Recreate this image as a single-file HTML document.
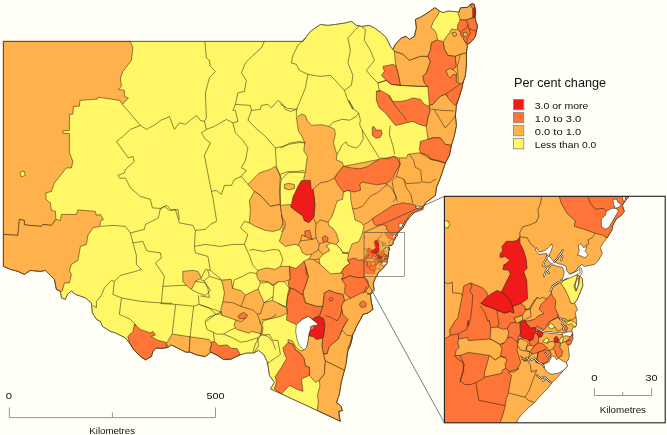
<!DOCTYPE html><html><head><meta charset="utf-8"><title>Map</title>
<style>html,body{margin:0;padding:0;background:#FFFFF8;}svg{display:block}text{font-family:"Liberation Sans",sans-serif;fill:#111}svg{opacity:.999;will-change:transform}</style></head><body>
<svg width="667" height="435" viewBox="0 0 667 435">
<rect width="667" height="435" fill="#FFFFF8"/>
<g transform="translate(0.4,0.4)">
<g stroke="#33260f" stroke-width="0.55" stroke-linejoin="round">
<polygon fill="#FFF766" points="3,41 302.5,41 305,37.5 310,31 320,24 327.5,25 335,24 345,22.5 351,21 356,25 361,26 369,25 374,27.5 381,32.5 386,37.5 390,46 392.5,49 395,44 401,37.5 406,36 409,39 414,36 416,27.5 415,19 420,16.9 425.3,13.7 430.6,10 434.3,7.4 436.4,8.5 439,10.6 442.7,12.2 447.5,10.6 453.8,11.1 458.6,11.6 460.2,7.4 467.6,6.9 469.7,4.2 471.8,3.2 474,4.2 474.5,7.4 475,11.6 474.5,16.9 475.5,21.1 477.1,25.4 476,30.7 475,36 471.8,40.2 469.7,42.3 467,44.5 466,52.5 466,65 465,75 462.5,82.5 460,92.5 457.5,100 456,105 455,115 456,125 454,135 451,145 449,155 445,162.5 442.5,170 439,180 436,187 435,195 425,202.5 422.5,207.5 415,211 410,216 406,221 402.5,227.5 397.7,232.4 397.1,233.2 396.5,234.0 396.9,235.1 396.3,235.8 395.4,236.5 394.8,237.7 394.6,238.6 393.7,240.0 393.0,240.8 392.5,241.7 392.8,242.8 392.3,243.8 392.0,244.2 391.5,244.8 389.5,245.2 389.1,244.8 388.5,245.3 387.9,246.2 388.3,246.7 388.7,247.0 389.1,247.4 389.3,248.6 388.9,249.7 388.3,251.1 387.8,251.9 388.0,252.5 388.3,253.2 387.9,253.6 388.0,254.4 388.1,255.2 388.1,255.8 387.9,256.3 387.5,256.3 387.3,257.0 387.5,257.6 387.3,258.5 387.0,259.4 386.6,259.8 386.7,260.7 386.8,261.6 386.6,262.2 386.3,262.7 386.4,263.5 385.8,264.2 384.8,265.3 383.7,266.5 382.8,267.6 381.6,268.8 380.4,270.1 379.3,271.1 378.1,272.2 377.4,273.2 377.2,273.7 376.5,275.5 375,277.5 372.5,284 374,290 370,294 371,302.5 372.5,309 367.5,312.5 362.5,314 360,319 356,326 354,331 352.5,333.5 351,341 347.5,351 346,361 344,370 341,381 339,393.5 337.6,397.6 336.1,402.6 338.4,403.7 340.7,406 341.5,409 342.2,410.1 338.4,410.9 338.8,415.8 339.9,420.8 316.8,410.1 281,393.5 270,388.5 274,382 269,375 267,361.6 263.5,354.4 258,349.9 253.6,352.6 246.4,352.6 240,354.4 235.6,356.2 230.2,358.9 223,358.9 217.6,355.3 210.4,351.7 205,356.2 196,354.4 189.7,351.7 185.2,351.7 178,348 170.8,344.5 167.2,347.2 160,348 156,347.5 152.5,351 151,356 145,359.5 140,356 134,350 129,342.5 125,337.5 115,332.5 110,331 102,326 100,321 96,319 92,312.5 91,302.5 85,297.5 75,294 71,290.5 67,294 65,299 61,297.5 60,291 56,289 54,279 50,275 45,270 40,271 30,270 24,274 17.5,271 10,269 3,266"/>
<polygon fill="#FFB24C" points="3,41 130,41 132.5,47.5 131,60 122.5,71 120,77.5 121,86 118,89 124,90 124,96 128,97.5 122,104 119.5,100 97.5,96.7 97,98.7 79.5,100 79,105.7 73,106 72.5,113.7 69,114 69,130 62.5,130.5 62.5,133 69,133 69,152.5 72.5,161 71,167.5 66,167.5 54,182.5 51,191 45.5,192.5 45.5,199 50,202.5 51,210 55,211 55.5,219 51,225 42.5,224 41,226 24,224.5 24,220 19,219 17.5,235 3,234"/>
<polygon fill="#FFB24C" points="3,234 17.5,235 19,219 24,220 24,224.5 41,226 42.5,224 51,225 55.5,219 60,220 61,214 76,214 77.5,209.5 95,211 96,215 100,214 103,219 100,221 99.5,226 92.5,227.5 87.5,235 86,244 80,246 77.5,260 71,264 69,270 71,274 69,282.5 64,282.5 62,290.5 60,291 56,289 54,279 50,275 45,270 40,271 30,270 24,274 17.5,271 10,269 3,266"/>
<polygon fill="#FFF766" points="19.5,172 23.5,170.5 25,175 21,176.5"/>
<polygon fill="#FF7538" points="134,324 140,329 150,332.5 152.5,331 155,334.5 151,336 157.5,340 165.4,341.8 166.3,347.2 160,348 156,347.5 152.5,351 151,356 145,359.5 140,356 134,350 129,342.5 127.5,336 132.5,331"/>
<polygon fill="#FFB24C" points="171.7,333.7 189.7,336.4 188.8,350.8 189.7,351.7 185.2,351.7 178,348 170.8,344.5 167.2,347.2 166.3,342.7"/>
<polygon fill="#FFB24C" points="189.7,336.4 208.6,339.1 211.3,343.6 209.5,349.9 210.4,351.7 205,356.2 196,354.4 189.7,351.7 188.8,350.8"/>
<polygon fill="#FF7538" points="210.4,341.8 214,340.9 218.5,345.4 226.6,344.5 231.1,348.1 236.5,348.1 240,354.4 235.6,356.2 230.2,358.9 223,358.9 217.6,355.3 210.4,351.7 209.5,349.9 211.3,343.6"/>
<polygon fill="#FFB24C" points="221,279.7 230.7,279 232.2,288 240.5,290.2 245,294.7 252.5,291 257.7,288.7 260,294 263.7,302.2 272,300 278,303 285.5,306.7 287,312.7 281,315.7 272,318 261.5,319.5 259.2,321.7 262.6,327.4 261.7,333.7 251.8,331 248.2,332.8 242.8,331 236.7,329.2 233.7,325.5 235.2,319.5 228.5,317.2 221.7,315 220.2,309.7 222.5,301.5 224,292.5 222.5,285"/>
<polygon fill="#FF7538" points="237.5,315.7 240.5,313.5 243.5,312 247.2,315 245,318 239,318.3"/>
<polygon fill="#FFB24C" points="182.5,271 192.5,270 197.5,271 201,277.5 195,281 191,289 186,285 182.5,281"/>
<polygon fill="#FFB24C" points="256.2,273 257.5,270 266,267.5 275,269 280,266 289,266 290,279 284,281.2 278,281.2 272,285 267.5,281.2 259.2,280.5 257,277.5"/>
<polygon fill="#FFB24C" points="247.5,184 259,172.5 270,169 275,166 280,175 279,192.5 280,204 270,206 260,195 254,191"/>
<polygon fill="#FFB24C" points="254,191 260,195 270,206 280,204 280,205 282.5,222.5 280,229 272.5,231 265,230 255,226 249,222.5 250,210 249,200"/>
<polygon fill="#FFB24C" points="284,184 288,183 294,184 294,188 289,189.5 284,188"/>
<polygon fill="#FFB24C" points="304,176 336,176 343,166 394,156 397.5,157.5 406,157.5 407.5,154 417.5,152.5 421,152.5 427.5,155 430,159 437.5,160 445,162.5 442.5,170 439,180 436,187 435,195 425,202.5 422.5,207.5 415,211 410,216 406,221 402.5,227.5 397.7,232.4 397.1,233.2 396.5,234.0 396.9,235.1 396.3,235.8 395.4,236.5 394.8,237.7 394.6,238.6 393.7,240.0 393.0,240.8 392.5,241.7 392.8,242.8 392.3,243.8 392.0,244.2 391.5,244.8 389.5,245.2 389.1,244.8 388.5,245.3 387.9,246.2 388.3,246.7 388.7,247.0 389.1,247.4 389.3,248.6 388.9,249.7 388.3,251.1 387.8,251.9 388.0,252.5 388.3,253.2 387.9,253.6 388.0,254.4 388.1,255.2 388.1,255.8 387.9,256.3 387.5,256.3 387.3,257.0 387.5,257.6 387.3,258.5 387.0,259.4 386.6,259.8 386.7,260.7 386.8,261.6 386.6,262.2 386.3,262.7 386.4,263.5 385.8,264.2 384.8,265.3 383.7,266.5 382.8,267.6 381.6,268.8 380.4,270.1 379.3,271.1 378.1,272.2 377.4,273.2 377.2,273.7 376.5,275.5 375,277.5 372.8,282.6 373.7,288 371,291.6 369.2,297 371,302.5 372.5,309 367.5,312.5 362.5,314 360,319 356,326 354,331 352.5,333.5 351,341 349,347.5 345,346 340,332.5 344,325 347.5,319 342.5,314 341,306 342.5,302.5 344,300 342.5,294 335,292.5 329,290 324,292.5 322.5,306 316,306 305,302.5 302.6,291.6 305.3,284.4 308,276.3 305.3,266.4 303.5,261 308.9,258.3 311.6,253.8 306.2,254.7 301.7,252 299.9,246.6 295.4,243.9 290,244.8 285,246 279,241 282.5,230 282.5,222.5 280,205 290,204 290.5,206.5 294.2,209.5 302.5,215.5 304,220 308.5,222.2 313.4,216.8 314.5,205 313.7,196 312.2,187 310.7,179.5"/>
<polygon fill="#F01A1A" points="301,180.2 310.7,179.5 312.2,187 313.7,196 314.5,205 313.4,216.8 308.5,222.2 304,220 302.5,215.5 294.2,209.5 290.5,206.5 292.7,196 295,191.5 298,185"/>
<polygon fill="#FFF766" points="327.7,221.7 331.5,216.5 335,206 336.8,200.6 342.2,198.8 343,191.6 347.6,189.8 350.3,192.5 350.3,198.8 352,207.8 353.9,215 354.7,219.5 361.5,222.5 363.7,226.2 361.5,234.5 358.5,241.2 351.7,243.5 348,253.2 342.7,252.5 339.7,248 336,244.2 338.2,240.5 336,233 332.2,227.7 328.5,225.5"/>
<polygon fill="#FFF766" points="325.5,245.7 330,242.7 336,244.2 339.7,248 342.7,252.5 348,253.2 347.2,260 349.5,263 343.5,267.5 340.5,272.7 330,273.5 326.2,269.7 319.5,263.7 318.7,258.5 322.5,254 329.2,250.2 327.7,247.2"/>
<polygon fill="#FF7538" points="304.5,230.7 309,230 311.2,236.7 312,239 308.2,237.5 304.5,236"/>
<polygon fill="#FF7538" points="321.7,237.5 324.7,235.2 327.7,237.5 327,241.2 323.2,242"/>
<polygon fill="#FF7538" points="289,266 295.4,268.2 303.5,261 305.3,266.4 308,276.3 305.3,284.4 302.6,291.6 302.5,295 294,289 289,287.5 287.5,281 290,279"/>
<polygon fill="#FF7538" points="347.2,260 351.2,258.3 354,257.7 358.5,260 362.9,259.2 363.8,265.5 363.8,277.2 356.6,277.2 349.4,275.4 341.3,279 343.1,273.6 340.5,272.7 343.5,267.5 349.5,263"/>
<polygon fill="#FF7538" points="341.3,279 349.4,275.4 356.6,277.2 363.8,277.2 367.4,279.9 368.3,286.2 365.6,290.7 362,294.3 352.1,298.8 347.6,296.1 344,292.5 344.9,284.4"/>
<polygon fill="#FF7538" points="287.5,292.5 289,287.5 294,289 302.5,295 305,302.5 316,306 322.5,306 319,316 317,316 311.7,319 308,316 302,319 296,324.2 294.5,323.5 286.2,319.7 287,310 286,305"/>
<polygon fill="#FF7538" points="324,292.5 329,290 335,292.5 342.5,294 344,300 341,306 342.5,314 348.5,317.5 344,325 341.7,329.5 338,338.5 329,346 326.7,353.5 323,353.5 321.5,345.2 322.2,337.7 323,337 324.5,325 323,318.2 319,316 322.5,306"/>
<polygon fill="#F01A1A" points="311.7,319 317,316 323,318.2 324.5,325 323,337 316.2,339.2 312.5,336.2 308,335.5 308.7,332.5 311.7,325.7 315.5,325 317.7,323.5"/>
<polygon fill="#FFFFFC" points="296,324.2 302,319 308,316 311.7,319 317.7,323.5 315.5,325 311.7,325.7 308.7,332.5 308,339.2 306.5,346.7 303.5,349.7 299,345.2 296.7,339.2 295.2,331"/>
<polygon fill="#FFB24C" points="342.5,302.5 345,300 351,297.5 364,291 370,294 371,302.5 372.5,309 367.5,312.5 362.5,314 360,319 356,326 354,331 352.5,333.5 351,341 349,347.5 345,346 340,332.5 344,325 347.5,319 342.5,314 341,306"/>
<polygon fill="#FF7538" points="360,302 363,300.5 366,303 365,306.5 361,307 359,304.5"/>
<polygon fill="#FFB24C" points="326.7,353.5 329,346 338,338.5 341.7,329.5 346.2,334.7 351.5,335.5 350,341.5 347.7,347.5 346.2,356.5 345.5,365.5 344,370 339.5,367.7 332,364 326,361 324.5,359.5 323,353.5"/>
<polygon fill="#FFB24C" points="287.7,339.2 292.2,340.7 296,347.5 300.5,350.5 303.5,349.7 306.5,346.7 308,339.2 308,335.5 312.5,336.2 316.2,339.2 322.2,337.7 321.5,345.2 323,353.5 324.5,359.5 325,360 324,373.5 319,380 315,382 309,375 309,367 305,365.5 303.5,358 299.7,352.7 295.2,349.7 292.2,343.7 287.7,342.2"/>
<polygon fill="#FF7538" points="282.5,347.5 287.7,342.2 292.2,343.7 295.2,349.7 299.7,352.7 303.5,358 305,365.5 309,367 309,375 301,378.5 302.5,391 296,388.5 289,385 281,393.5 274,388.5 276,382 275,376 281,367 286.2,358 284,353.5"/>
<polygon fill="#FFB24C" points="324,373.5 325,360 326,361 332,364 339.5,367.7 344,370 341,381 339,393.5 337.6,397.6 336.1,402.6 338.4,403.7 340.7,406 341.5,409 342.2,410.1 338.4,410.9 338.8,415.8 339.9,420.8 316.8,410.1 317.9,402.2 317.2,394.6 319.5,386 319,380"/>
<polygon fill="#FFB24C" points="415,19 420,16.9 425.3,13.7 430.6,10 434.3,7.4 436.4,8.5 439,10.6 437.4,14.8 433.2,20.6 430.6,27 433.7,29.6 436.4,33.8 437,39.5 431,42.5 430,50 427.5,56 420,56 409,60 402.5,54 394,51 392.5,49 395,44 401,37.5 406,36 409,39 414,36 416,27.5"/>
<polygon fill="#FFB24C" points="394,51 402.5,54 409,60 420,56 427.5,56 430,61 426,72.5 422.5,76 424,82.5 427.5,86 420,86 400,85 397.5,72.5 395,62.5"/>
<polygon fill="#FFB24C" points="458.6,11.6 460.2,7.4 467.6,6.9 469.7,4.8 470.8,6.3 472.9,8.5 472.9,17.4 469.7,18 466.5,19.6 462.3,19.6 459.7,19 458,13.7"/>
<polygon fill="#FF7538" points="469.7,4.2 471.8,3.2 474,4.2 474.5,7.4 472.9,8.5 470.8,6.3"/>
<polygon fill="#F01A1A" points="472.4,8.5 474.7,7.4 475.3,11.6 474.8,16.9 472.4,17.4"/>
<polygon fill="#FFB24C" points="442.7,41.2 445.9,36.5 449.6,31.7 451.2,28.5 456,29.6 457,28.5 460.2,31.7 460.7,34.9 462.8,37.5 464.4,41.2 466.5,43.9 467,44.5 466,52.5 460,54 455,56 447.5,55 444,49"/>
<polygon fill="#FF7538" points="459.7,19 462.3,19.6 466.5,19.6 469.7,18 472.9,17.4 474.5,16.9 475.5,21.1 477.1,25.4 476,30.7 475,36 471.8,40.2 469.7,42.3 466.5,43.9 464.4,41.2 462.8,37.5 460.7,34.9 460.2,31.7 457,28.5 457.5,23.8 459.1,21.1"/>
<polygon fill="#FFB24C" points="462.8,32.3 466,31.7 467,34.4 466,36.5 463.4,36"/>
<polygon fill="#FFB24C" points="451.7,32.3 454.9,31.7 456.5,33.8 455.4,36 452.8,35.4"/>
<polygon fill="#FF7538" points="437,39.5 442.7,41.2 444,49 447.5,55 455,56 456,66 452.5,69 456,72.5 456,81 461,84 460,92.5 457.5,100 452.5,100 447.5,96 445,94 440,96 436,100 432.5,104 429,105 427.5,86 424,82.5 422.5,76 426,72.5 430,61 427.5,56 430,50 431,42.5"/>
<polygon fill="#FFB24C" points="445.7,70.2 449.5,68 453.2,69.5 457,70.2 456.2,74.7 452.5,74 450.2,77.7 447.2,74.7"/>
<polygon fill="#FFB24C" points="455,56 460,54 466,52.5 466,65 465,75 462.5,82.5 461,84 456,81 456,72.5 452.5,69 456,66"/>
<polygon fill="#FF7538" points="382.5,66 392.5,64 395,65 397.5,72.5 400,85 391,84 386,80 381,75 384,71"/>
<polygon fill="#FF7538" points="376,91 380,90 389,95 392.5,101 400,101 406,100 412.5,97.5 420,99 424,104 429,106 430,110 427.5,117.5 426,126 419,124 412.5,121 405,122.5 400,124 395,125 391,120 385,112.5 379,107.5 376,100"/>
<polygon fill="#FFB24C" points="429,105 432.5,104 436,100 440,96 445,94 447.5,96 452.5,100 457.5,100 456,105 455,115 456,125 454,135 451,145 445,144 440,137.5 432.5,137.5 427.5,139 426,126 427.5,117.5 430,110"/>
<polygon fill="#FF7538" points="420,141 427.5,139 432.5,137.5 440,137.5 445,144 451,145 449,155 445,162.5 437.5,160 430,159 427.5,155 421,152.5 419,150"/>
<polygon fill="#FF7538" points="334,177.5 337.6,172 343,165.7 351,167.5 359,168.4 366.4,166.6 373.6,162 380.8,157.6 388,158.5 393.3,155.8 397,158.5 399.7,163.4 398.7,166 395,172 392.6,177.2 387.2,182.6 376.4,184.4 362,181.7 359.3,183.5 360.2,189.8 353.9,191.6 347.6,189.8 343,191.6 337.7,184.4"/>
<polygon fill="#FF7538" points="371.8,127 373.6,126 375.4,129.7 380.8,129.7 381.7,133.3 379.9,136.9 375.4,137.8 372.1,135"/>
<polygon fill="#FFB24C" points="296,117 301.6,113.5 305,115.3 307,120.7 311.5,125 321.4,124.3 328.6,126 334,128.8 335,134 333,142.3 335,149.5 336.7,154 335.8,159.4 342,162 343,165.7 337.6,172 334,177.5 327.5,181 320,182.5 311,190 310,180 304,180 303.4,178 305,172 306,163 307,155.8 303.4,150.4 304.3,142.3 301.6,136 298,130.6 297,123.4"/>
<polygon fill="#FF7538" points="371.6,218.4 381.2,212.4 392,205.2 395.6,204 399.2,203.4 402.8,202.2 406.4,203.4 410,203.4 414.7,204.6 415.3,207 422,207 423.1,208.8 417.1,211.2 412.4,212.4 408.8,214.8 406.4,219 402.8,223.8 400.4,228 398,231 395.6,233.4 392,232.2 388.4,231.6 386,228.6 386,225.6 382.4,224.4 375.2,225 373.4,222.6"/>
<polygon fill="#FFFFFC" points="415.5,206 418,205.6 421.5,206.5 421.8,208 418,208.2 415.6,207.6"/>
<polygon fill="#FFFFFC" points="398.5,223.5 400.5,222.6 402.5,224 401,227.4 398.6,227"/>
<polygon fill="#FF7538" points="445.6,93.4 453.7,88 462.7,81.7 461.8,88 460,92.5 459,97 456,103 454.6,105 451.9,102.4 447.4,97"/>
<polygon fill="#FF7538" points="328.5,298.7 330,297.2 332,297.5 333,299 332,300.2 329.5,300.5"/>
<polygon fill="#FF7538" points="309.7,326.5 313.5,325 314.2,328 310.5,330.2"/>
</g>
<g stroke="#33260f" stroke-width="0.55" fill="none" stroke-linejoin="round">
<polyline points="222.5,301.5 232.2,302.2 240.5,306 245,294.7"/>
<polyline points="240.5,306 252.5,309.7 257,313.5 260,313.5 263.7,302.2"/>
<polyline points="257,313.5 260,322.5"/>
<polyline points="235.2,319.5 240.5,321.5 245,318"/>
<polyline points="232.2,288 233.7,279.7 242,276 249.5,272.2 256.2,273"/>
<polyline points="257.7,288.7 260,282.7 259.2,280.5"/>
<polyline points="260,282.7 268,282 273.5,285 272.7,296.2 272,300"/>
<polyline points="272.7,296.2 263.7,302.2"/>
<polyline points="278,303 281.7,305.2 285.5,306.7"/>
<polyline points="273.5,285 278,281.2"/>
<polyline points="284,281.2 290,289.5 287,297 286,306"/>
<polyline points="200,304.5 219.5,311.2 221.7,315"/>
<polyline points="200,295.5 209,297 207.5,288 203.7,280.5 200,279"/>
<polyline points="206,321 215,314.2 220.2,313.5"/>
<polyline points="203.7,280.5 209,276 221,279.7"/>
<polyline points="209,276 207.5,270"/>
<polyline points="122,104 140,125 146,129 155,124 160,120 166.5,117.5 169,116 174,129 179,122.5 185,124 191,119 196,115 200,120 204,121 206,117.5 205,92.5 209,77.5 215,71 210,66 209,60 206,57.5 204.5,41"/>
<polyline points="140,125 130,129 122.5,136 116,141 128,157.5 132.5,156 134,161 125,169 124,172.5 117.5,175 119.5,178 125,177.5 130,187.5 140,196 150,199 152,207.5 160,208 166.5,205 171,210 177.5,209 179,219"/>
<polyline points="160,208 158,217.5 145,224 144,229 130,232.5 125,226 112.5,225 100,226"/>
<polyline points="204,121 206,129 201,132.5 205,139 210,142.5 204,155 211,191 212.5,197.5 216,219"/>
<polyline points="206,129 214,126 226,119 232.5,122.5 237.5,121 235,110 232.5,110 235,104 237.5,92.5 244,91 246,80 241,72.5 245,62.5 252.5,55 261,47.5 264,41"/>
<polyline points="232.5,122.5 235,132.5 242.5,140 247.5,147.5 245,160 241,167.5 246,170 241,176 247.5,184"/>
<polyline points="241,176 234,179 231,185 224,185 221,194 216,190 211,191"/>
<polyline points="235,104 250,105 251,110 260,109 261,105 267.5,104 271,107.5 277.5,100 282.5,104 285,109 290,111 296,109 296,116"/>
<polyline points="251,110 247.5,120 249,121 255,127.5 265,136 275,147.5 276,166"/>
<polyline points="275,147.5 282.5,146 290,142.5 300,141 305,142.5"/>
<polyline points="296,109 300,100 305,87.5 307.5,74 299,70 296,64 291,62.5 292.5,55 297.5,45 305,37.5"/>
<polyline points="307.5,74 320,76 330,75 335,80 344,90 347.5,100 352.5,109 348.4,100 353.8,109 358.3,112.6 355.6,116.2 349.3,119.8 342,118.9 333,121.6 328.6,126"/>
<polyline points="344,90 351,85 352.5,75 347.5,62.5 350,50 347.5,37.5 359,25"/>
<polyline points="361,26 365,29 364,40 370,50 374,60 366,70 370,75 377.5,82.5 386,80"/>
<polyline points="377.5,82.5 379,91 376,91"/>
<polyline points="280,103.6 287.2,108 297,109"/>
<polyline points="280,147.7 288,144 298,142.3 304.3,142.3"/>
<polyline points="280,173.8 288,171 298,172 305,172"/>
<polyline points="276,166 281,179 287.5,172.5 304,170"/>
<polyline points="281,179 280,185 280,204"/>
<polyline points="358.3,112.6 360,119.8 359.2,124.3 361.9,129.7 362.8,138.7 359.2,145 355.6,147.7 347.5,145 345.7,141.4 341.2,145 339.4,149.5 336.7,154"/>
<polyline points="361.9,129.7 370,143.2 379,157.6"/>
<polyline points="389.8,125.2 388.9,134.2 392.5,145 394.3,154"/>
<polyline points="377.5,82.5 386,80 391,84 400,85 420,86 427.5,86"/>
<polyline points="130,232.5 132.5,242.5 142.5,241 146,250 149,251 160,252.5 161,257.5 155,262.5 164,276 162.5,286 180,285 186,285"/>
<polyline points="132.5,242.5 136,255 136,264 141,269 135,271 120,275 114,281 111,280 104,287.5 101,295 96,301 96,307.5 92.5,305"/>
<polyline points="114,281 112.5,294 121,297.5 140,301 160,302.5 172,303"/>
<polyline points="121,297.5 119,314 130,319 136,325 134,324"/>
<polyline points="160,209 164,206 169,210 175,209 179,222.5 192.5,225 195,230 205,229 210,224 216,221 216,219"/>
<polyline points="195,230 194,246 195,252.5 207.5,256 210,270 219,277.5 221,279"/>
<polyline points="194,246 205,244 220,246 232.5,244 244,244 247.5,234 240,227.5 244,221 249,222.5"/>
<polyline points="244,244 249,255 252.5,265 257.5,270"/>
<polyline points="249,250 252.5,249 262.5,251 274,249 279,250 282.5,259 280,266"/>
<polyline points="162.5,286 161,302.5"/>
<polyline points="201,277.5 205,269 210,270"/>
<polyline points="195,281 205,282.5 210,290 205,295 197.5,292.5 191,289"/>
<polyline points="160,303.1 175.3,304 193.3,305.8 198.7,304 208.6,307.6 215.8,313.9 221.2,311.2"/>
<polyline points="175.3,304 171.7,333.7"/>
<polyline points="193.3,305.8 191.5,320.2 189.7,336.4"/>
<polyline points="198.7,304 198,295"/>
<polyline points="215.8,313.9 208.6,316.6 205,320.2 205,323.8 206.8,329.2 213,331.9 215.8,333.7 223,333.7 229.3,330 235.6,327.4"/>
<polyline points="213,331.9 214,340.9"/>
<polyline points="223,333.7 232,337.3 240,341.8 246.4,340.9 257.2,337.3 261.7,333.7"/>
<polyline points="257.2,337.3 258,345.4 253.6,352.6"/>
<polyline points="262.6,334 268,336.4 272.5,341.8 275.2,349"/>
<polyline points="262.5,321 260,335 269,334 272.5,340 277.5,340 280,354 270,361 266,363.5"/>
<polyline points="260,335 255,343.5 252.5,352"/>
<polyline points="276,314 271,317.5 262.5,321 260,324"/>
<polyline points="324.7,315.2 330,316.7 336.7,320.5 339.7,316 341.2,310"/>
<polyline points="366,286 363,293.5"/>
<polyline points="366.7,294.2 372,292.7"/>
<polyline points="466,19.6 467.5,24 468.5,28 472,29.5 476,30.7"/>
<polyline points="467.5,24 466,28 462,30 460.2,31.7"/>
<polyline points="468.5,28 470,33 467,38 466,43"/>
<polyline points="280.5,215 285,222.5 284.2,228.5 280.5,231.5"/>
<polyline points="313.5,218 315.7,224 315,230 315.7,237.5 318.7,243.5 318,249.5 312,253.2"/>
<polyline points="315.7,224 319.5,219.5 327.7,221.7"/>
<polyline points="315.7,237.5 312,239 300,240.5 297.7,245"/>
<polyline points="300,240.5 301.5,234.5 304.5,236"/>
<polyline points="318.7,243.5 323.2,242"/>
<polyline points="327,241.2 330,242.7"/>
<polyline points="318,249.5 322.5,254"/>
<polyline points="306,275 305.2,266"/>
<polyline points="308.2,258.5 313.4,259.2 318.7,258.5"/>
<polyline points="319.5,263.7 313.4,259.2"/>
<polyline points="341.3,252.9 347.6,252"/>
<polyline points="408.7,153.5 413.2,159.8 415,167 420.4,169.7 421.3,181.4 429.4,182.3 435.7,178.7"/>
<polyline points="398.8,158 399.7,163.4 396,176 403.3,178.7 406,183.2 420.4,182.3"/>
<polyline points="419.5,152.6 427.6,157.1 431.2,158.9 443.8,162.5"/>
<polyline points="396,176 391.6,180.5 393.4,190.4 397,201.2"/>
<polyline points="403.3,178.7 406,187.7 410.5,194 412.3,203"/>
<polyline points="387,184 377.2,192.2 370,195.8 362,206 354.8,208.7 352,207.8"/>
<polyline points="385.4,183.5 390.8,187.1 396.2,197 392.6,201.5"/>
<polyline points="363.8,224 367.4,222.2 371.9,218.6"/>
<polyline points="431.2,108.7 442,110 453.7,110.5"/>
<polyline points="434,109.5 444.7,127.6 452.8,118.6 455,115"/>
<polyline points="388,95.2 395.2,106 404.2,116.8 406,120.4"/>
<polyline points="460,54 457,66 458,81"/>
<polygon stroke-width="0.4" points="3,41 302.5,41 305,37.5 310,31 320,24 327.5,25 335,24 345,22.5 351,21 356,25 361,26 369,25 374,27.5 381,32.5 386,37.5 390,46 392.5,49 395,44 401,37.5 406,36 409,39 414,36 416,27.5 415,19 420,16.9 425.3,13.7 430.6,10 434.3,7.4 436.4,8.5 439,10.6 442.7,12.2 447.5,10.6 453.8,11.1 458.6,11.6 460.2,7.4 467.6,6.9 469.7,4.2 471.8,3.2 474,4.2 474.5,7.4 475,11.6 474.5,16.9 475.5,21.1 477.1,25.4 476,30.7 475,36 471.8,40.2 469.7,42.3 467,44.5 466,52.5 466,65 465,75 462.5,82.5 460,92.5 457.5,100 456,105 455,115 456,125 454,135 451,145 449,155 445,162.5 442.5,170 439,180 436,187 435,195 425,202.5 422.5,207.5 415,211 410,216 406,221 402.5,227.5 397.7,232.4 397.1,233.2 396.5,234.0 396.9,235.1 396.3,235.8 395.4,236.5 394.8,237.7 394.6,238.6 393.7,240.0 393.0,240.8 392.5,241.7 392.8,242.8 392.3,243.8 392.0,244.2 391.5,244.8 389.5,245.2 389.1,244.8 388.5,245.3 387.9,246.2 388.3,246.7 388.7,247.0 389.1,247.4 389.3,248.6 388.9,249.7 388.3,251.1 387.8,251.9 388.0,252.5 388.3,253.2 387.9,253.6 388.0,254.4 388.1,255.2 388.1,255.8 387.9,256.3 387.5,256.3 387.3,257.0 387.5,257.6 387.3,258.5 387.0,259.4 386.6,259.8 386.7,260.7 386.8,261.6 386.6,262.2 386.3,262.7 386.4,263.5 385.8,264.2 384.8,265.3 383.7,266.5 382.8,267.6 381.6,268.8 380.4,270.1 379.3,271.1 378.1,272.2 377.4,273.2 377.2,273.7 376.5,275.5 375,277.5 372.5,284 374,290 370,294 371,302.5 372.5,309 367.5,312.5 362.5,314 360,319 356,326 354,331 352.5,333.5 351,341 347.5,351 346,361 344,370 341,381 339,393.5 337.6,397.6 336.1,402.6 338.4,403.7 340.7,406 341.5,409 342.2,410.1 338.4,410.9 338.8,415.8 339.9,420.8 316.8,410.1 281,393.5 270,388.5 274,382 269,375 267,361.6 263.5,354.4 258,349.9 253.6,352.6 246.4,352.6 240,354.4 235.6,356.2 230.2,358.9 223,358.9 217.6,355.3 210.4,351.7 205,356.2 196,354.4 189.7,351.7 185.2,351.7 178,348 170.8,344.5 167.2,347.2 160,348 156,347.5 152.5,351 151,356 145,359.5 140,356 134,350 129,342.5 125,337.5 115,332.5 110,331 102,326 100,321 96,319 92,312.5 91,302.5 85,297.5 75,294 71,290.5 67,294 65,299 61,297.5 60,291 56,289 54,279 50,275 45,270 40,271 30,270 24,274 17.5,271 10,269 3,266"/>
</g>
</g>
<clipPath id="mc"><rect x="364" y="232.4" width="40.6" height="41.4"/></clipPath>
<g clip-path="url(#mc)"><g transform="translate(364,232.4) scale(0.18315) translate(-444.5,-196.3)" stroke="#33260f" stroke-width="0.3">
<polygon vector-effect="non-scaling-stroke" fill="#FFB24C" points="444,196 628.7,196.3 625,200.5 622,205 624,211 621,215 616,218.6 612.5,225 611.5,230 606.7,237.7 603,242.4 600,247.2 602,253 599,258.6 597.5,261 594.5,264 584,266.2 581.7,264 578,267 575,271.5 577.2,274.5 579.5,276 581.7,278.2 582.5,285 580.2,291 577.2,298.5 574.2,303 575.7,306 577.2,309.7 575,312 575.7,316.5 576.3,320.8 576.3,323.8 575.1,326.8 572.7,326.8 571.5,330.4 572.7,334 571.5,338.8 570.3,343.6 568,346 568.5,350.8 569.1,355.6 568,359.2 566,362 567,366 563.6,369.7 558,376 552,382.3 546.9,388.6 540.6,394.9 534.3,402.2 528,407.5 521.7,413.8 517.5,419 516,424 444,424"/>
<polygon vector-effect="non-scaling-stroke" fill="#FF7538" points="559,196.3 561,203 566.7,213 575,220.5 574,226 584,229 595,233 603,235 606.7,237.7 611.5,230 612.5,225 616,218.6 621,215 624,211 622,205 625,200.5 628.7,196.3"/>
<polygon vector-effect="non-scaling-stroke" fill="#FF7538" points="463.5,285.7 470.2,282.7 481.5,287.2 486,291 487.5,295.5 480.7,303 484.5,305.2 489,306.7 496.5,309.7 504,312.7 510,311.2 513.7,312.7 512.2,306 520.5,303 524.2,306 525.7,309.7 522,315 517.5,316.5 513.7,318 516,321.5 519.7,322.2 519.7,327.5 520.5,335 517.5,336.5 517.5,342.5 516.7,350 519,357.5 520.5,362 517.5,368 518.5,368.6 511.2,370.7 508,372.8 511.2,375 509,386.5 508,393.8 506,398 504.9,405.4 502.8,413.8 499.2,424 444,424 444,338 445.5,338 450,335 449.2,329.7 455.2,320 457.5,318 459,310.5 462,295.5"/>
<polygon vector-effect="non-scaling-stroke" fill="#FF7538" points="551,293.2 552.5,296.2 555.5,300.7 554.7,307.5 557.7,314.2 557.2,317.2 551.2,320.2 548.2,322.6 545.2,328 542.8,329.2 536.8,325.6 535,327.4 530.2,328 526.6,323.8 524.2,319.6 527.2,320.8 534.4,319 535.2,318 539,315 543.5,313.5 539,309 540.5,304.5 546.5,298.5"/>
<polygon vector-effect="non-scaling-stroke" fill="#FF7538" points="533.2,333.4 536.8,333.4 538.6,337 538,342.4 533.8,346 529.6,344.8 529,340.6 532.6,338.8"/>
<polygon vector-effect="non-scaling-stroke" fill="#FF7538" points="529.6,351.4 533.8,346 538,342.4 542.8,343.6 546.4,347.2 544.6,349.6 538,352 532,353.8"/>
<polygon vector-effect="non-scaling-stroke" fill="#FF7538" points="554.2,341.4 557.8,341.8 560.2,343 559.6,347.2 562,350.8 561.4,355.6 558.4,357.4 556,355.6 554.8,350.8 552.4,348.4 554.8,344.8"/>
<polygon vector-effect="non-scaling-stroke" fill="#FF7538" points="565.6,341.8 569.8,337 572.2,334 572.7,338.8 570.4,343.6 567.4,344.8"/>
<polygon vector-effect="non-scaling-stroke" fill="#FF7538" points="538,352 544.6,349.6 549.4,350.2 551.2,354.4 548.8,358 546.4,362 542.7,363.4 537.4,362.3 535.6,362 536.8,358"/>
<polygon vector-effect="non-scaling-stroke" fill="#FF7538" points="563.2,326.2 565.6,325 567.4,328 565.6,331.6 563.2,330.4"/>
<polygon vector-effect="non-scaling-stroke" fill="#FFB24C" points="458.2,338.7 467.2,337.2 468,340.2 489,338.7 492,339.5 499.5,344 501.7,348.5 500.2,356 495,359.7 489,355.2 468,352.2 459.7,355.2 454.5,355.2 456,350 459,347 457.5,342.5"/>
<polygon vector-effect="non-scaling-stroke" fill="#FFB24C" points="490.5,327.5 496.5,326.7 503.2,329 507,328.2 508.5,332.7 507,338 504,342.5 499.5,344 492,339.5 489.7,338.7"/>
<polygon vector-effect="non-scaling-stroke" fill="#FFB24C" points="489,355.2 495,359.7 500.2,356 505.5,357.5 506.5,361 504.7,363.5 505.5,368 502.5,369.5 501,373.2 493.5,374.7 483.7,377 484.5,371 486.7,363.5"/>
<polygon vector-effect="non-scaling-stroke" fill="#FFB24C" points="513.7,318 517.5,316.5 522,315 522.7,318.7 520.5,321 516,323.2"/>
<polygon vector-effect="non-scaling-stroke" fill="#FFF766" points="560,282 567.5,278.2 573.5,274.5 577.2,274.5 575.7,280.5 573.5,285.7 575.7,291 578.7,283.5 579.5,276 581.7,278.2 582.5,285 580.2,291 577.2,298.5 574.2,303 570.5,303 569,298.5 566.7,293.2 564.5,288.7"/>
<polygon vector-effect="non-scaling-stroke" fill="#FFF766" points="547.6,324.4 551.2,323.2 554.8,326.8 551.2,328.6 548.8,327.4"/>
<polygon vector-effect="non-scaling-stroke" fill="#FFF766" points="563.8,320.2 566.8,322 570.4,320.2 574,322 576.3,323.8 575.1,326.8 572.7,325.6 571.5,323.2 568,324.4 565.5,323"/>
<polygon vector-effect="non-scaling-stroke" fill="#FFF766" points="542.2,341.2 546.4,337.6 548.8,339.4 546.4,343"/>
<polygon vector-effect="non-scaling-stroke" fill="#FFF766" points="559,340 561.4,336.4 563.2,338.2 562,342.4 560.2,343"/>
<polygon vector-effect="non-scaling-stroke" fill="#FFF766" points="444,220.3 448,221 449.4,224 448,227.5 444,227.5"/>
<polygon vector-effect="non-scaling-stroke" fill="#F01A1A" points="516.9,240 519.6,236.5 519.6,242.8 523.2,250 525.9,259 526.8,268 523.5,271.5 526.5,280.5 527.2,298.5 524.2,300.7 520.5,303 512.2,306 508.5,297.7 501,291.7 510,273.7 508.5,270 502.5,269.2 504,264 503.4,265.3 509.7,259.9 505.2,256.3 499.8,257.2 499.8,253.6 502.5,250 501.6,246.4 506,241 513.3,241"/>
<polygon vector-effect="non-scaling-stroke" fill="#F01A1A" points="480.7,303 489,294.7 496.5,290.2 501,291.7 508.5,297.7 512.2,306 513.7,312.7 510,311.2 504,312.7 496.5,309.7 489,306.7 484.5,305.2"/>
<polygon vector-effect="non-scaling-stroke" fill="#F01A1A" points="520,321.4 524.2,319.6 526.6,323.8 530.2,328 535,327.4 536.2,331.6 533.2,333.4 532.6,338.8 529,340.6 524.8,338.2 519.4,335.8 520.6,329.8"/>
<polygon vector-effect="non-scaling-stroke" fill="#F01A1A" points="537.4,329.2 539.8,329.8 542.8,332.2 541.6,336.4 538.6,337 536.8,333.4"/>
<polygon vector-effect="non-scaling-stroke" fill="#F01A1A" points="553.6,338.2 556,335.8 558.4,338.8 557.8,341.8 554.2,341.4"/>
<polygon vector-effect="non-scaling-stroke" fill="#FFFFFC" points="606,211 611.5,208 616,208 618,211 613.5,218.6 608.6,227 605,229 601,226 601,218.6 605,215"/>
<polygon vector-effect="non-scaling-stroke" fill="#FFFFFC" points="612.5,199.5 616,198.6 618,202.4 621,203.3 619,207 615,208 613.4,204.3"/>
<polygon vector-effect="non-scaling-stroke" fill="#FFFFFC" points="622,196.3 625,196.3 625,200.5 623,201"/>
<polygon vector-effect="non-scaling-stroke" fill="#FFFFFC" points="578,245.3 581,243.4 583,247.2 586.7,246.3 584.8,251 587.7,254 584.8,257.7 581,255.8 577,254.8 579,251"/>
<polygon vector-effect="non-scaling-stroke" fill="#FFFFFC" points="548.8,361.5 550,358 552.4,355.6 554.8,356.8 556,359.2 558.4,358 562,360.5 566,362 567,366 563.6,369.7 558.4,372.8 551,374 546.9,371.8 543.5,367 542.7,364.4"/>
<polygon vector-effect="non-scaling-stroke" fill="#FFFFFC" points="562,332.8 566,332 570.3,331 572,333 570.3,336.4 566,335.5 562,336"/>
<polygon vector-effect="non-scaling-stroke" fill="#FFFFFC" points="578,267 575,271.5 569,273.7 564.5,277.5 560,279.5 561,281 567.5,278.2 573.5,274.5 577.2,274.5 579.5,276 582,272 581,268"/>
<polygon vector-effect="non-scaling-stroke" fill="#FFFFFC" points="576.3,279.5 577.8,277.5 578.3,283.5 576,290 574.8,286"/>
<polygon vector-effect="non-scaling-stroke" fill="#FFFFFC" points="536,247.1 538.7,251.6 543.2,250.7 547.7,248 551.3,243.5 552.2,246.2 550.4,251.6 548.6,255.2 551.3,258.8 554,261.5 557.6,263.3 562,264.2 565.7,266 566.6,270.5 569.3,274 575.6,271.4 579.2,268.7 580,272.3 573.8,275.9 569.3,277.7 564.8,278.6 561.2,281.3 563,275.9 563.9,271.4 562,266.9 556.7,266 552.2,264.2 548.6,261.5 545.9,257 546.8,253.4 543.2,253.4 538.7,254.3 535,249.8"/>
<polyline vector-effect="non-scaling-stroke" fill="none" points="541.2,196 540.3,203.2 537.6,209.5 538.5,215.8 535.8,222 528.6,224.8 522.3,226.6 519.6,232 519.6,236.5 526.8,237.4 530.4,243.7 534.9,247.3"/>
<polyline vector-effect="non-scaling-stroke" fill="none" points="587.5,196 590,202.5 595,209 603,208 606,211"/>
<polyline vector-effect="non-scaling-stroke" fill="none" points="595,233 591.5,237.7 587.7,239.6 588.6,243.4 584.8,245.3"/>
<polyline vector-effect="non-scaling-stroke" fill="none" points="444,281.2 447,283.5 452.2,282 452.2,292.5 460.5,293.2 462,295.5"/>
<polyline vector-effect="non-scaling-stroke" fill="none" points="470.2,282.7 471.7,285.7 469.5,291 472.5,294.7 471.7,306 470.2,318 468,326 468,320 466.5,329 458.2,333.5 458.2,338.7"/>
<polyline vector-effect="non-scaling-stroke" fill="none" points="480,306 484.5,312 487.5,321 489,320 490.5,327.5"/>
<polyline vector-effect="non-scaling-stroke" fill="none" points="496.5,309.7 497.2,315 498.7,324 496.5,326.7"/>
<polyline vector-effect="non-scaling-stroke" fill="none" points="458.2,333.5 450,335"/>
<polyline vector-effect="non-scaling-stroke" fill="none" points="507,328.2 510,323 516,321.5"/>
<polyline vector-effect="non-scaling-stroke" fill="none" points="507,338 510.7,336.5 517.5,342.5"/>
<polyline vector-effect="non-scaling-stroke" fill="none" points="501,344.7 504,342.5"/>
<polyline vector-effect="non-scaling-stroke" fill="none" points="500.2,356 505.5,357.5"/>
<polyline vector-effect="non-scaling-stroke" fill="none" points="505.5,368 510,371.7 514.5,371.7 517.5,368"/>
<polyline vector-effect="non-scaling-stroke" fill="none" points="454.5,355.2 457.5,359 462.7,362 463.5,371 459.7,380 464,384 470.2,384.4 475.5,382.3 481.8,379 483.7,377"/>
<polyline vector-effect="non-scaling-stroke" fill="none" points="459.7,355 464,364.4 459.7,382.3"/>
<polyline vector-effect="non-scaling-stroke" fill="none" points="475.5,382.3 476.5,388.6 478.6,400 504.9,405.4"/>
<polyline vector-effect="non-scaling-stroke" fill="none" points="509,392.8 524.8,397 529,389.6 533.2,378 536.4,369.7 531,371.8 530,364.4 527,360.2 519.6,355"/>
<polyline vector-effect="non-scaling-stroke" fill="none" points="524.8,397 528,400 534.3,402.2"/>
<polyline vector-effect="non-scaling-stroke" fill="none" points="517.5,342.5 519,338 525,340.2 528,342.5 525.7,348.5 529.5,352.2 528,359 524.2,361.2 520.5,356.7"/>
<polyline vector-effect="non-scaling-stroke" fill="none" points="518.2,339.4 521.2,337.6 524.8,338.2"/>
<polyline vector-effect="non-scaling-stroke" fill="none" points="529.6,344.8 526.6,346 525.4,350.8 520,349.6 517,344.8"/>
<polyline vector-effect="non-scaling-stroke" fill="none" points="525.4,350.8 529.6,351.4 532,353.8 529,356.8 526,360.4 521.2,359.2"/>
<polyline vector-effect="non-scaling-stroke" fill="none" points="538,352 536.8,358 535.6,362"/>
<polyline vector-effect="non-scaling-stroke" fill="none" points="546.4,343 550,341.2 554.2,341.4"/>
<polyline vector-effect="non-scaling-stroke" fill="none" points="546.4,347.2 549.4,350.2 552.4,348.4"/>
<polyline vector-effect="non-scaling-stroke" fill="none" points="562,342.4 565.6,341.2 570.4,339.4"/>
<polyline vector-effect="non-scaling-stroke" fill="none" points="531.5,306 536.7,297 539.7,298.5 542,297 546.5,298.5"/>
<polyline vector-effect="non-scaling-stroke" fill="none" points="524,309 530,309 531.5,306"/>
<polyline vector-effect="non-scaling-stroke" fill="none" points="530,309 530.7,316.5 525.5,318.7"/>
<polyline vector-effect="non-scaling-stroke" fill="none" points="525.7,309.7 529.5,307.5 534,300 537.7,297"/>
<polyline vector-effect="non-scaling-stroke" fill="none" points="551.7,287.2 560,282"/>
<polyline vector-effect="non-scaling-stroke" fill="none" points="551,293.2 551.7,287.2"/>
<polyline vector-effect="non-scaling-stroke" fill="none" points="557.7,314.2 559.2,319.5 563.7,318 567.5,320.2 572,319.5 575.7,316.5"/>
<polyline vector-effect="non-scaling-stroke" fill="none" points="548.2,322.6 551.2,320.2 557.2,317.2 562,319.6 563.2,326.2 561.4,329.2 557.2,331 554.8,326.8"/>
<polyline vector-effect="non-scaling-stroke" fill="none" points="548.6,255.2 547,256 545,260 542.5,265 545,266 547.5,267.5 545,272 543.7,276"/>
<polyline vector-effect="non-scaling-stroke" fill="none" points="554,261.5 557.5,257.5 560,254 562.5,250"/>
<polyline vector-effect="non-scaling-stroke" fill="none" points="560,254 562,256 561,260"/>
<polyline vector-effect="non-scaling-stroke" fill="none" points="552.2,264.2 549.5,265.5 546.5,270 548.7,273"/>
<polyline vector-effect="non-scaling-stroke" fill="none" points="561.2,281.3 557.7,282 552.5,285.7 550.2,291"/>
<polyline vector-effect="non-scaling-stroke" fill="none" points="536.8,328 540,330 544,331.6 550,332.2 556,332.8 562,333.5"/>
<polyline vector-effect="non-scaling-stroke" fill="none" points="560,318 562,321 561.5,324 564,326 563,329 565,332"/>
<polyline vector-effect="non-scaling-stroke" fill="none" points="525.7,357.5 530,360 534,358 538,362 541,363 544,366.5"/>
<polyline vector-effect="non-scaling-stroke" fill="none" points="536.4,375 540,378 543,376.5 545,377 549,381 551,382.3"/>
<polyline vector-effect="non-scaling-stroke" fill="none" points="544,378 543,381"/>
<polyline vector-effect="non-scaling-stroke" fill="none" points="550,358 547,356 545,353"/>
</g></g>
<g stroke="#444" stroke-width="0.7" fill="none"><line x1="364" y1="232.4" x2="444.5" y2="196.3"/><line x1="364" y1="276.4" x2="444.4" y2="422.8"/></g>
<rect x="364" y="232.4" width="40.6" height="44" fill="none" stroke="#5a5650" stroke-width="0.6"/>
<clipPath id="ic"><rect x="444.4" y="196.3" width="220.8" height="226.5"/></clipPath>
<rect x="444.4" y="196.3" width="220.8" height="226.5" fill="#FFFFF8"/>
<g clip-path="url(#ic)"><g transform="translate(0.3,0.3)" stroke="#33260f" stroke-width="0.6" stroke-linejoin="round">
<polygon fill="#FFB24C" points="444,196 628.7,196.3 625,200.5 622,205 624,211 621,215 616,218.6 612.5,225 611.5,230 606.7,237.7 603,242.4 600,247.2 602,253 599,258.6 597.5,261 594.5,264 584,266.2 581.7,264 578,267 575,271.5 577.2,274.5 579.5,276 581.7,278.2 582.5,285 580.2,291 577.2,298.5 574.2,303 575.7,306 577.2,309.7 575,312 575.7,316.5 576.3,320.8 576.3,323.8 575.1,326.8 572.7,326.8 571.5,330.4 572.7,334 571.5,338.8 570.3,343.6 568,346 568.5,350.8 569.1,355.6 568,359.2 566,362 567,366 563.6,369.7 558,376 552,382.3 546.9,388.6 540.6,394.9 534.3,402.2 528,407.5 521.7,413.8 517.5,419 516,424 444,424"/>
<polygon fill="#FF7538" points="559,196.3 561,203 566.7,213 575,220.5 574,226 584,229 595,233 603,235 606.7,237.7 611.5,230 612.5,225 616,218.6 621,215 624,211 622,205 625,200.5 628.7,196.3"/>
<polygon fill="#FF7538" points="463.5,285.7 470.2,282.7 481.5,287.2 486,291 487.5,295.5 480.7,303 484.5,305.2 489,306.7 496.5,309.7 504,312.7 510,311.2 513.7,312.7 512.2,306 520.5,303 524.2,306 525.7,309.7 522,315 517.5,316.5 513.7,318 516,321.5 519.7,322.2 519.7,327.5 520.5,335 517.5,336.5 517.5,342.5 516.7,350 519,357.5 520.5,362 517.5,368 518.5,368.6 511.2,370.7 508,372.8 511.2,375 509,386.5 508,393.8 506,398 504.9,405.4 502.8,413.8 499.2,424 444,424 444,338 445.5,338 450,335 449.2,329.7 455.2,320 457.5,318 459,310.5 462,295.5"/>
<polygon fill="#FF7538" points="551,293.2 552.5,296.2 555.5,300.7 554.7,307.5 557.7,314.2 557.2,317.2 551.2,320.2 548.2,322.6 545.2,328 542.8,329.2 536.8,325.6 535,327.4 530.2,328 526.6,323.8 524.2,319.6 527.2,320.8 534.4,319 535.2,318 539,315 543.5,313.5 539,309 540.5,304.5 546.5,298.5"/>
<polygon fill="#FF7538" points="533.2,333.4 536.8,333.4 538.6,337 538,342.4 533.8,346 529.6,344.8 529,340.6 532.6,338.8"/>
<polygon fill="#FF7538" points="529.6,351.4 533.8,346 538,342.4 542.8,343.6 546.4,347.2 544.6,349.6 538,352 532,353.8"/>
<polygon fill="#FF7538" points="554.2,341.4 557.8,341.8 560.2,343 559.6,347.2 562,350.8 561.4,355.6 558.4,357.4 556,355.6 554.8,350.8 552.4,348.4 554.8,344.8"/>
<polygon fill="#FF7538" points="565.6,341.8 569.8,337 572.2,334 572.7,338.8 570.4,343.6 567.4,344.8"/>
<polygon fill="#FF7538" points="538,352 544.6,349.6 549.4,350.2 551.2,354.4 548.8,358 546.4,362 542.7,363.4 537.4,362.3 535.6,362 536.8,358"/>
<polygon fill="#FF7538" points="563.2,326.2 565.6,325 567.4,328 565.6,331.6 563.2,330.4"/>
<polygon fill="#FFB24C" points="458.2,338.7 467.2,337.2 468,340.2 489,338.7 492,339.5 499.5,344 501.7,348.5 500.2,356 495,359.7 489,355.2 468,352.2 459.7,355.2 454.5,355.2 456,350 459,347 457.5,342.5"/>
<polygon fill="#FFB24C" points="490.5,327.5 496.5,326.7 503.2,329 507,328.2 508.5,332.7 507,338 504,342.5 499.5,344 492,339.5 489.7,338.7"/>
<polygon fill="#FFB24C" points="489,355.2 495,359.7 500.2,356 505.5,357.5 506.5,361 504.7,363.5 505.5,368 502.5,369.5 501,373.2 493.5,374.7 483.7,377 484.5,371 486.7,363.5"/>
<polygon fill="#FFB24C" points="513.7,318 517.5,316.5 522,315 522.7,318.7 520.5,321 516,323.2"/>
<polygon fill="#FFF766" points="560,282 567.5,278.2 573.5,274.5 577.2,274.5 575.7,280.5 573.5,285.7 575.7,291 578.7,283.5 579.5,276 581.7,278.2 582.5,285 580.2,291 577.2,298.5 574.2,303 570.5,303 569,298.5 566.7,293.2 564.5,288.7"/>
<polygon fill="#FFF766" points="547.6,324.4 551.2,323.2 554.8,326.8 551.2,328.6 548.8,327.4"/>
<polygon fill="#FFF766" points="563.8,320.2 566.8,322 570.4,320.2 574,322 576.3,323.8 575.1,326.8 572.7,325.6 571.5,323.2 568,324.4 565.5,323"/>
<polygon fill="#FFF766" points="542.2,341.2 546.4,337.6 548.8,339.4 546.4,343"/>
<polygon fill="#FFF766" points="559,340 561.4,336.4 563.2,338.2 562,342.4 560.2,343"/>
<polygon fill="#FFF766" points="444,220.3 448,221 449.4,224 448,227.5 444,227.5"/>
<polygon fill="#F01A1A" points="516.9,240 519.6,236.5 519.6,242.8 523.2,250 525.9,259 526.8,268 523.5,271.5 526.5,280.5 527.2,298.5 524.2,300.7 520.5,303 512.2,306 508.5,297.7 501,291.7 510,273.7 508.5,270 502.5,269.2 504,264 503.4,265.3 509.7,259.9 505.2,256.3 499.8,257.2 499.8,253.6 502.5,250 501.6,246.4 506,241 513.3,241"/>
<polygon fill="#F01A1A" points="480.7,303 489,294.7 496.5,290.2 501,291.7 508.5,297.7 512.2,306 513.7,312.7 510,311.2 504,312.7 496.5,309.7 489,306.7 484.5,305.2"/>
<polygon fill="#F01A1A" points="520,321.4 524.2,319.6 526.6,323.8 530.2,328 535,327.4 536.2,331.6 533.2,333.4 532.6,338.8 529,340.6 524.8,338.2 519.4,335.8 520.6,329.8"/>
<polygon fill="#F01A1A" points="537.4,329.2 539.8,329.8 542.8,332.2 541.6,336.4 538.6,337 536.8,333.4"/>
<polygon fill="#F01A1A" points="553.6,338.2 556,335.8 558.4,338.8 557.8,341.8 554.2,341.4"/>
<polygon fill="#FFFFFC" points="606,211 611.5,208 616,208 618,211 613.5,218.6 608.6,227 605,229 601,226 601,218.6 605,215"/>
<polygon fill="#FFFFFC" points="612.5,199.5 616,198.6 618,202.4 621,203.3 619,207 615,208 613.4,204.3"/>
<polygon fill="#FFFFFC" points="622,196.3 625,196.3 625,200.5 623,201"/>
<polygon fill="#FFFFFC" points="578,245.3 581,243.4 583,247.2 586.7,246.3 584.8,251 587.7,254 584.8,257.7 581,255.8 577,254.8 579,251"/>
<polygon fill="#FFFFFC" points="548.8,361.5 550,358 552.4,355.6 554.8,356.8 556,359.2 558.4,358 562,360.5 566,362 567,366 563.6,369.7 558.4,372.8 551,374 546.9,371.8 543.5,367 542.7,364.4"/>
<polygon fill="#FFFFFC" points="562,332.8 566,332 570.3,331 572,333 570.3,336.4 566,335.5 562,336"/>
<polygon fill="#FFFFFC" points="578,267 575,271.5 569,273.7 564.5,277.5 560,279.5 561,281 567.5,278.2 573.5,274.5 577.2,274.5 579.5,276 582,272 581,268"/>
<polygon fill="#FFFFFC" points="576.3,279.5 577.8,277.5 578.3,283.5 576,290 574.8,286"/>
<polygon fill="#FFFFFC" points="536,247.1 538.7,251.6 543.2,250.7 547.7,248 551.3,243.5 552.2,246.2 550.4,251.6 548.6,255.2 551.3,258.8 554,261.5 557.6,263.3 562,264.2 565.7,266 566.6,270.5 569.3,274 575.6,271.4 579.2,268.7 580,272.3 573.8,275.9 569.3,277.7 564.8,278.6 561.2,281.3 563,275.9 563.9,271.4 562,266.9 556.7,266 552.2,264.2 548.6,261.5 545.9,257 546.8,253.4 543.2,253.4 538.7,254.3 535,249.8"/>
<g fill="none">
<polyline points="541.2,196 540.3,203.2 537.6,209.5 538.5,215.8 535.8,222 528.6,224.8 522.3,226.6 519.6,232 519.6,236.5 526.8,237.4 530.4,243.7 534.9,247.3"/>
<polyline points="587.5,196 590,202.5 595,209 603,208 606,211"/>
<polyline points="595,233 591.5,237.7 587.7,239.6 588.6,243.4 584.8,245.3"/>
<polyline points="444,281.2 447,283.5 452.2,282 452.2,292.5 460.5,293.2 462,295.5"/>
<polyline points="470.2,282.7 471.7,285.7 469.5,291 472.5,294.7 471.7,306 470.2,318 468,326 468,320 466.5,329 458.2,333.5 458.2,338.7"/>
<polyline points="480,306 484.5,312 487.5,321 489,320 490.5,327.5"/>
<polyline points="496.5,309.7 497.2,315 498.7,324 496.5,326.7"/>
<polyline points="458.2,333.5 450,335"/>
<polyline points="507,328.2 510,323 516,321.5"/>
<polyline points="507,338 510.7,336.5 517.5,342.5"/>
<polyline points="501,344.7 504,342.5"/>
<polyline points="500.2,356 505.5,357.5"/>
<polyline points="505.5,368 510,371.7 514.5,371.7 517.5,368"/>
<polyline points="454.5,355.2 457.5,359 462.7,362 463.5,371 459.7,380 464,384 470.2,384.4 475.5,382.3 481.8,379 483.7,377"/>
<polyline points="459.7,355 464,364.4 459.7,382.3"/>
<polyline points="475.5,382.3 476.5,388.6 478.6,400 504.9,405.4"/>
<polyline points="509,392.8 524.8,397 529,389.6 533.2,378 536.4,369.7 531,371.8 530,364.4 527,360.2 519.6,355"/>
<polyline points="524.8,397 528,400 534.3,402.2"/>
<polyline points="517.5,342.5 519,338 525,340.2 528,342.5 525.7,348.5 529.5,352.2 528,359 524.2,361.2 520.5,356.7"/>
<polyline points="518.2,339.4 521.2,337.6 524.8,338.2"/>
<polyline points="529.6,344.8 526.6,346 525.4,350.8 520,349.6 517,344.8"/>
<polyline points="525.4,350.8 529.6,351.4 532,353.8 529,356.8 526,360.4 521.2,359.2"/>
<polyline points="538,352 536.8,358 535.6,362"/>
<polyline points="546.4,343 550,341.2 554.2,341.4"/>
<polyline points="546.4,347.2 549.4,350.2 552.4,348.4"/>
<polyline points="562,342.4 565.6,341.2 570.4,339.4"/>
<polyline points="531.5,306 536.7,297 539.7,298.5 542,297 546.5,298.5"/>
<polyline points="524,309 530,309 531.5,306"/>
<polyline points="530,309 530.7,316.5 525.5,318.7"/>
<polyline points="525.7,309.7 529.5,307.5 534,300 537.7,297"/>
<polyline points="551.7,287.2 560,282"/>
<polyline points="551,293.2 551.7,287.2"/>
<polyline points="557.7,314.2 559.2,319.5 563.7,318 567.5,320.2 572,319.5 575.7,316.5"/>
<polyline points="548.2,322.6 551.2,320.2 557.2,317.2 562,319.6 563.2,326.2 561.4,329.2 557.2,331 554.8,326.8"/>
</g>
<g fill="none" stroke-linecap="round">
<polyline stroke="#33260f" stroke-width="1.9" points="548.6,255.2 547,256 545,260 542.5,265 545,266 547.5,267.5 545,272 543.7,276"/>
<polyline stroke="#33260f" stroke-width="1.9" points="554,261.5 557.5,257.5 560,254 562.5,250"/>
<polyline stroke="#33260f" stroke-width="1.9" points="560,254 562,256 561,260"/>
<polyline stroke="#33260f" stroke-width="1.9" points="552.2,264.2 549.5,265.5 546.5,270 548.7,273"/>
<polyline stroke="#33260f" stroke-width="1.9" points="561.2,281.3 557.7,282 552.5,285.7 550.2,291"/>
<polyline stroke="#33260f" stroke-width="1.9" points="536.8,328 540,330 544,331.6 550,332.2 556,332.8 562,333.5"/>
<polyline stroke="#33260f" stroke-width="1.9" points="560,318 562,321 561.5,324 564,326 563,329 565,332"/>
<polyline stroke="#33260f" stroke-width="1.9" points="525.7,357.5 530,360 534,358 538,362 541,363 544,366.5"/>
<polyline stroke="#33260f" stroke-width="1.9" points="536.4,375 540,378 543,376.5 545,377 549,381 551,382.3"/>
<polyline stroke="#33260f" stroke-width="1.9" points="544,378 543,381"/>
<polyline stroke="#33260f" stroke-width="1.9" points="550,358 547,356 545,353"/>
<polyline stroke="#fffffc" stroke-width="0.95" points="548.6,255.2 547,256 545,260 542.5,265 545,266 547.5,267.5 545,272 543.7,276"/>
<polyline stroke="#fffffc" stroke-width="0.95" points="554,261.5 557.5,257.5 560,254 562.5,250"/>
<polyline stroke="#fffffc" stroke-width="0.95" points="560,254 562,256 561,260"/>
<polyline stroke="#fffffc" stroke-width="0.95" points="552.2,264.2 549.5,265.5 546.5,270 548.7,273"/>
<polyline stroke="#fffffc" stroke-width="0.95" points="561.2,281.3 557.7,282 552.5,285.7 550.2,291"/>
<polyline stroke="#fffffc" stroke-width="0.95" points="536.8,328 540,330 544,331.6 550,332.2 556,332.8 562,333.5"/>
<polyline stroke="#fffffc" stroke-width="0.95" points="560,318 562,321 561.5,324 564,326 563,329 565,332"/>
<polyline stroke="#fffffc" stroke-width="0.95" points="525.7,357.5 530,360 534,358 538,362 541,363 544,366.5"/>
<polyline stroke="#fffffc" stroke-width="0.95" points="536.4,375 540,378 543,376.5 545,377 549,381 551,382.3"/>
<polyline stroke="#fffffc" stroke-width="0.95" points="544,378 543,381"/>
<polyline stroke="#fffffc" stroke-width="0.95" points="550,358 547,356 545,353"/>
</g></g></g>
<rect x="444.4" y="196.3" width="220.8" height="226.5" fill="none" stroke="#222" stroke-width="1.1"/>
<text x="514" y="87.1" font-size="12.4" textLength="92" lengthAdjust="spacingAndGlyphs" text-anchor="start">Per cent change</text>
<g stroke="#888" stroke-width="0.8">
<rect x="513.4" y="99.4" width="10.4" height="10.4" fill="#F01A1A"/>
<rect x="513.4" y="112.4" width="10.4" height="10.4" fill="#FF7538"/>
<rect x="513.4" y="125.4" width="10.4" height="10.4" fill="#FFB24C"/>
<rect x="513.4" y="138.4" width="10.4" height="10.4" fill="#FFF766"/>
</g>
<text x="534.7" y="109.1" font-size="9.8" textLength="53.8" lengthAdjust="spacingAndGlyphs" text-anchor="start">3.0 or more</text>
<text x="534.7" y="122.1" font-size="9.8" textLength="46.5" lengthAdjust="spacingAndGlyphs" text-anchor="start">1.0 to 3.0</text>
<text x="534.7" y="135.1" font-size="9.8" textLength="46.5" lengthAdjust="spacingAndGlyphs" text-anchor="start">0.0 to 1.0</text>
<text x="534.7" y="148.1" font-size="9.8" textLength="61.5" lengthAdjust="spacingAndGlyphs" text-anchor="start">Less than 0.0</text>
<g stroke="#8a8a8a" stroke-width="0.9" fill="none">
<polyline points="9.4,407.5 9.4,417.6 215.5,417.6 215.5,407.5"/>
<line x1="112.4" y1="412.4" x2="112.4" y2="417.6"/>
<polyline points="594.3,388 594.3,395.5 651.7,395.5 651.7,388"/>
<line x1="622.8" y1="391.8" x2="622.8" y2="395.5"/>
</g>
<text x="5.8" y="398.8" font-size="9.8" textLength="6.3" lengthAdjust="spacingAndGlyphs" text-anchor="start">0</text>
<text x="206.4" y="398.8" font-size="9.8" textLength="18.2" lengthAdjust="spacingAndGlyphs" text-anchor="start">500</text>
<text x="89.3" y="434.3" font-size="9.5" textLength="45.7" lengthAdjust="spacingAndGlyphs" text-anchor="start">Kilometres</text>
<text x="591.2" y="380.6" font-size="9.8" textLength="6.3" lengthAdjust="spacingAndGlyphs" text-anchor="start">0</text>
<text x="645.5" y="380.6" font-size="9.8" textLength="12" lengthAdjust="spacingAndGlyphs" text-anchor="start">30</text>
<text x="599.7" y="412.8" font-size="9.5" textLength="46.3" lengthAdjust="spacingAndGlyphs" text-anchor="start">Kilometres</text>
</svg></body></html>
